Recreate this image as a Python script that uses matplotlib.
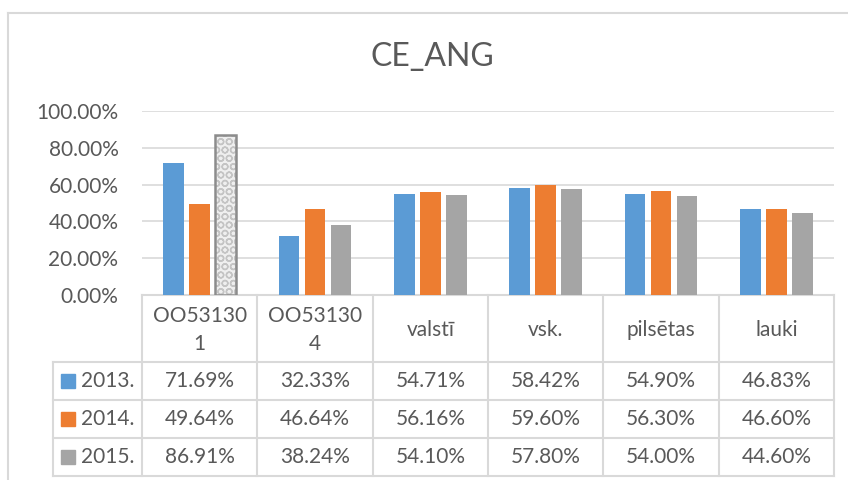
import matplotlib
matplotlib.use('Agg')
import matplotlib.pyplot as plt
import matplotlib.transforms as mtransforms
from matplotlib.lines import Line2D
from matplotlib.patches import Rectangle
import numpy as np

plt.rcParams['font.family'] = ['Lato', 'DejaVu Sans']

categories = ['OO53130\n1', 'OO53130\n4', 'valstī', 'vsk.', 'pilsētas', 'lauki']
series = ['2013.', '2014.', '2015.']
v2013 = [71.69, 32.33, 54.71, 58.42, 54.90, 46.83]
v2014 = [49.64, 46.64, 56.16, 59.60, 56.30, 46.60]
v2015 = [86.91, 38.24, 54.10, 57.80, 54.00, 44.60]
colors = ['#5B9BD5', '#ED7D31', '#A5A5A5']
yticks = [0, 20, 40, 60, 80, 100]

TXT = '#595959'
GRID = '#D9D9D9'
W, H = 848, 480
FS = 15

fig = plt.figure(figsize=(W / 100, H / 100), dpi=100)
ax = fig.add_axes([142 / W, 1 - 295 / H, 692 / W, 184 / H])

x = np.arange(len(categories))
offs = [-0.225, 0, 0.225]
bw = 0.178
for i, vals in enumerate([v2013, v2014, v2015]):
    for j, v in enumerate(vals):
        if i == 2 and j == 0:
            # patterned bar
            ax.bar(x[j] + offs[i], v / 100, bw, color='#EFEFEF', edgecolor='#C4C4C4',
                   hatch='OO', linewidth=0, zorder=3)
            ax.bar(x[j] + offs[i], v / 100, bw, fill=False, edgecolor='#8C8C8C',
                   linewidth=1.8, zorder=4)
        else:
            ax.bar(x[j] + offs[i], v / 100, bw, color=colors[i], zorder=3)

ax.set_xlim(-0.5, len(categories) - 0.5)
ax.set_ylim(0, 1)
ax.set_yticks([t / 100 for t in yticks])
ax.set_yticklabels([f'{t:.2f}%' for t in yticks], color=TXT, fontsize=FS)
ax.tick_params(axis='y', length=0, pad=17)
ax.set_xticks([])
ax.grid(axis='y', color=GRID, linewidth=1.2, zorder=0)
for s in ['top', 'right', 'left']:
    ax.spines[s].set_visible(False)
ax.spines['bottom'].set_color(GRID)
ax.spines['bottom'].set_linewidth(1.5)

fig.text(432 / W, 1 - 57 / H, 'CE_ANG', fontsize=23, color=TXT, ha='center', va='center')

# data table
tr = mtransforms.blended_transform_factory(ax.transData, ax.transAxes)


def yf(px):
    return (295 - px) / 184


col_edges = np.arange(len(categories) + 1) - 0.5
leg_left = -0.5 - (142 - 53) / 115.33
row_lines = [362, 400, 438, 476]
for ce in col_edges:
    ax.add_line(Line2D([ce, ce], [yf(295), yf(476)], transform=tr, color=GRID,
                       lw=1.5, clip_on=False))
ax.add_line(Line2D([leg_left, leg_left], [yf(362), yf(476)], transform=tr, color=GRID,
                   lw=1.5, clip_on=False))
for rl in row_lines:
    ax.add_line(Line2D([leg_left, col_edges[-1]], [yf(rl), yf(rl)], transform=tr,
                       color=GRID, lw=1.5, clip_on=False))

for j, c in enumerate(categories):
    ax.text(x[j], yf(330), c, transform=tr, ha='center', va='center', color=TXT,
            fontsize=FS, linespacing=1.45)

for i, (name, vals) in enumerate(zip(series, [v2013, v2014, v2015])):
    yc = (row_lines[i] + row_lines[i + 1]) / 2
    sq_x = leg_left + 8 / 115.33
    ax.add_patch(Rectangle((sq_x, yf(yc + 7)), 14 / 115.33, 14 / 184, transform=tr,
                           color=colors[i], clip_on=False))
    ax.text(leg_left + 28 / 115.33, yf(yc), name, transform=tr, ha='left', va='center',
            color=TXT, fontsize=FS)
    for j, v in enumerate(vals):
        ax.text(x[j], yf(yc), f'{v:.2f}%', transform=tr, ha='center', va='center',
                color=TXT, fontsize=FS)

# chart border
fig.add_artist(Line2D([8 / W, 8 / W], [0, 1 - 13 / H], transform=fig.transFigure,
                      color=GRID, lw=1.5))
fig.add_artist(Line2D([8 / W, 1], [1 - 13 / H, 1 - 13 / H], transform=fig.transFigure,
                      color=GRID, lw=1.5))

fig.savefig('out.png', dpi=100)
